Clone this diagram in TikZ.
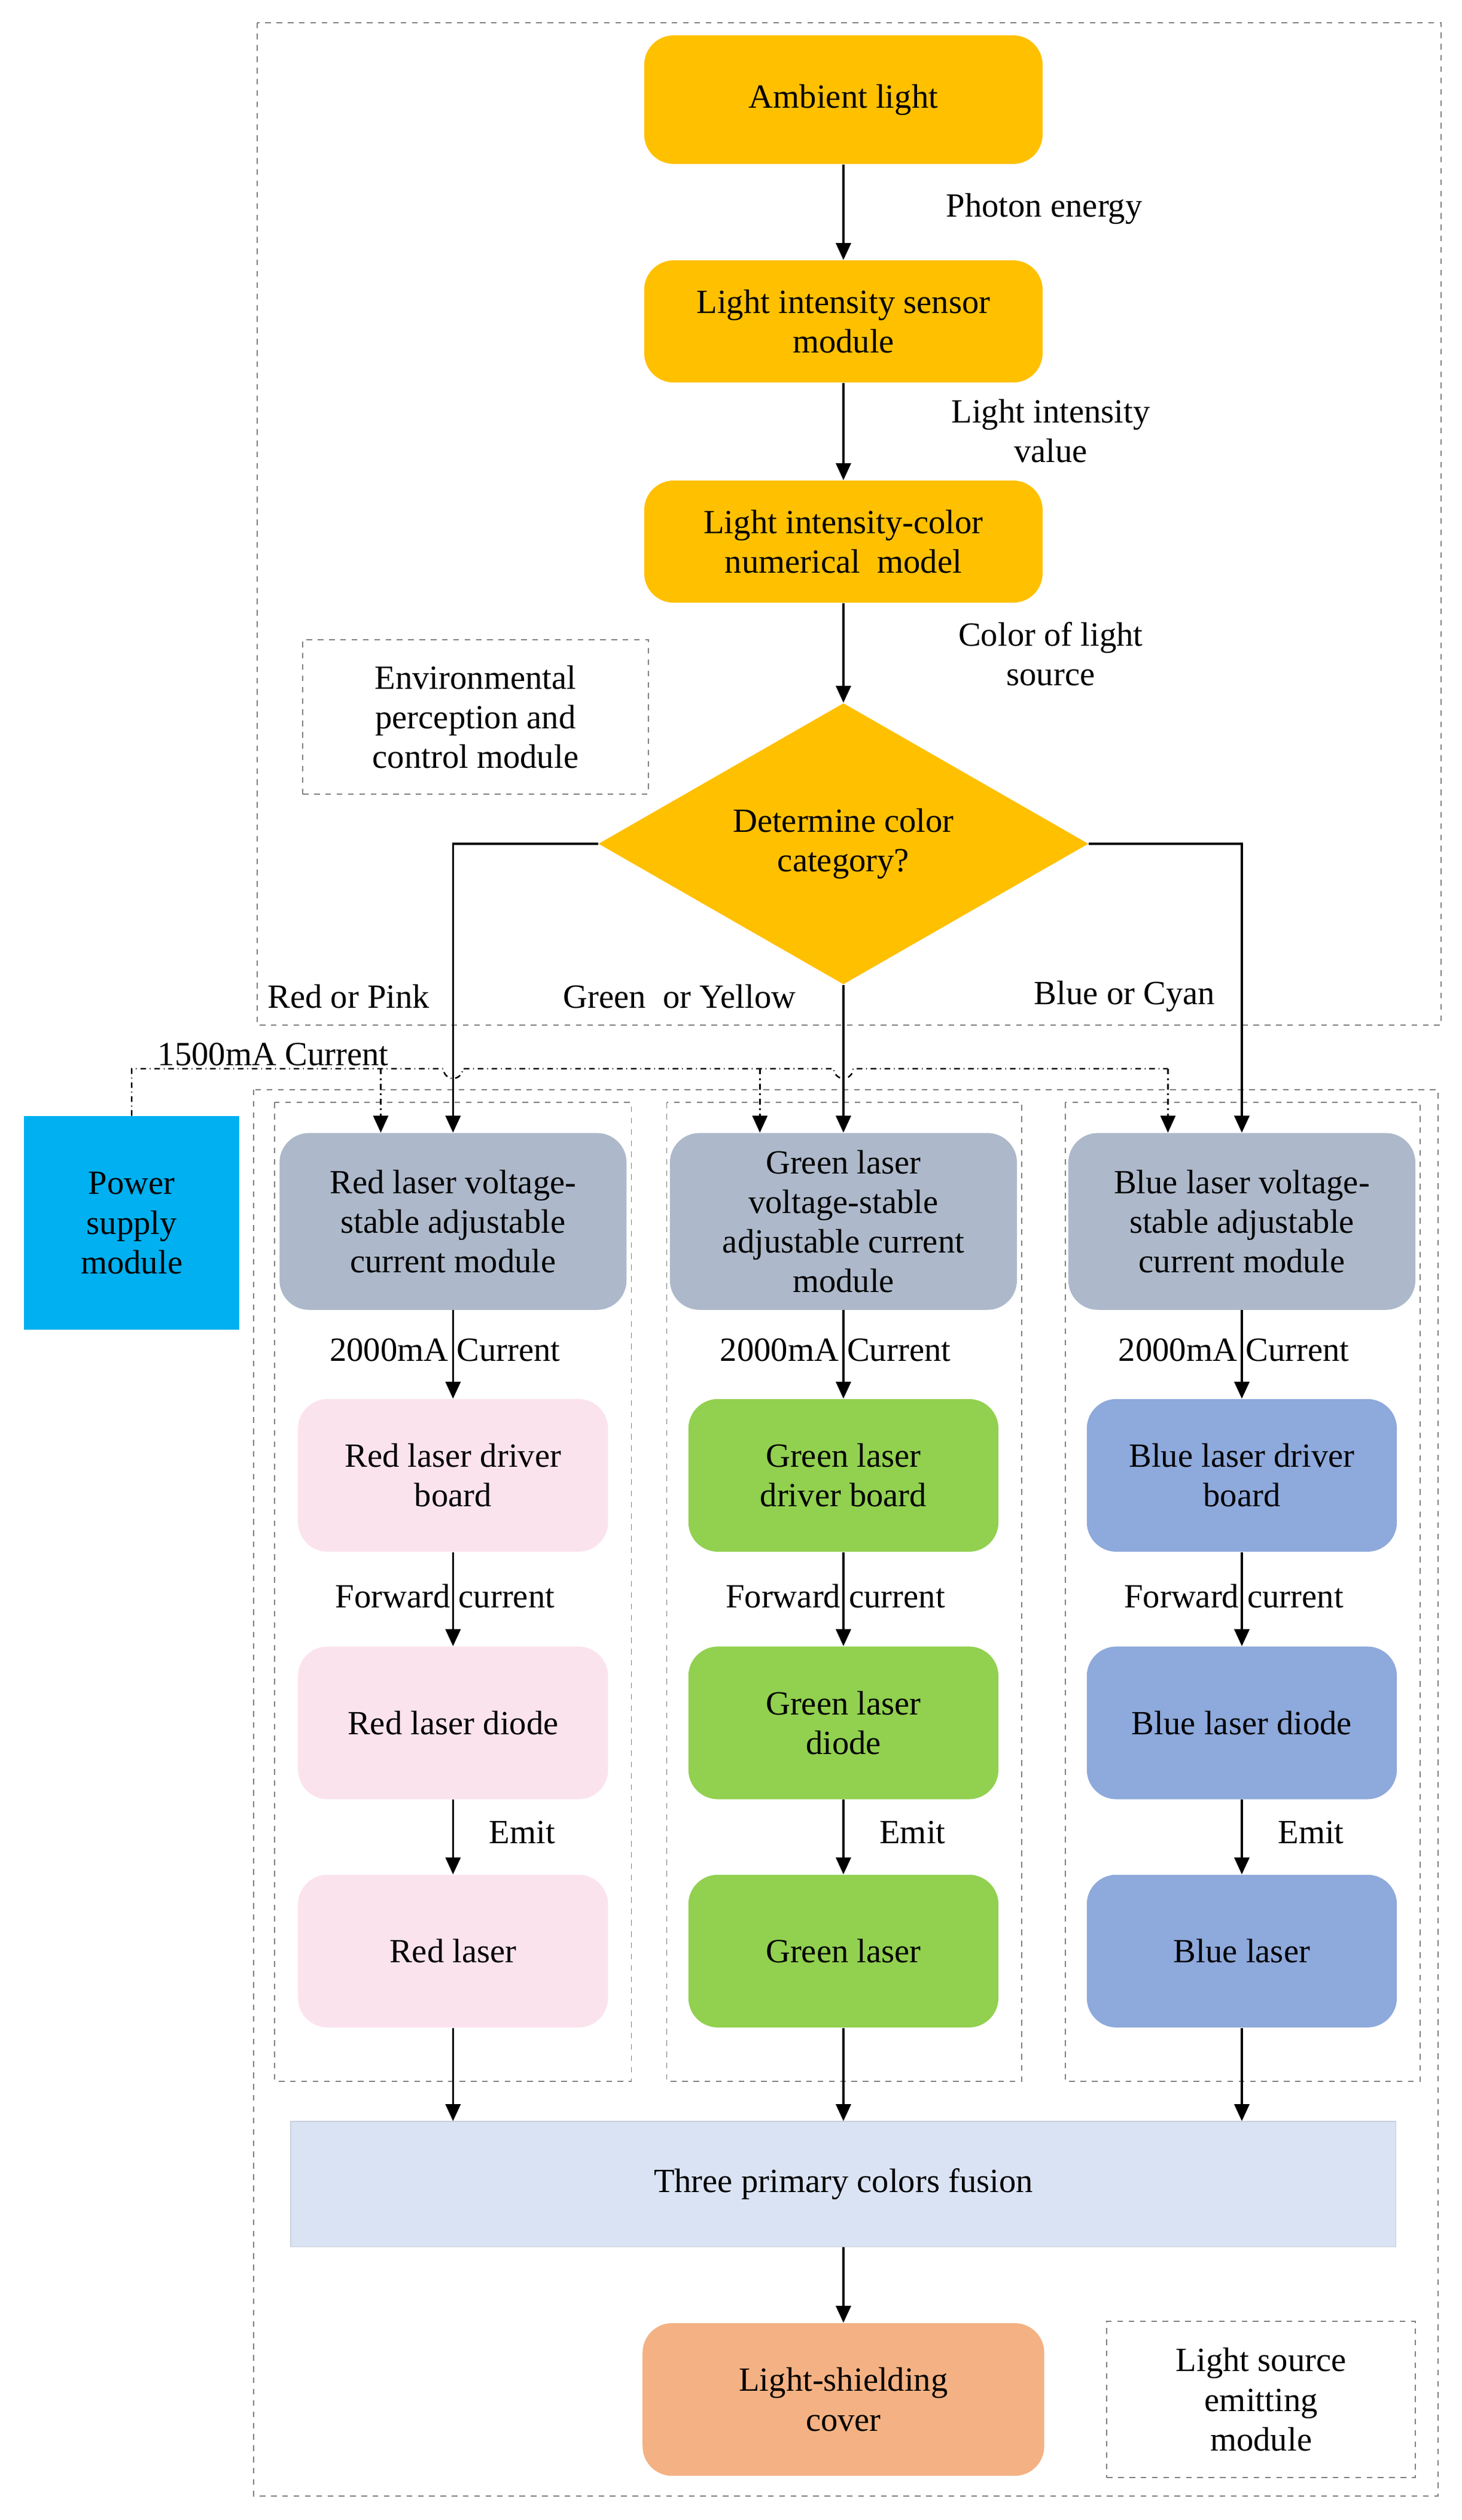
\documentclass[tikz,border=0pt]{standalone}
\usepackage{fontspec}
\setmainfont{Liberation Serif}
\usetikzlibrary{shapes.geometric,arrows.meta}
\definecolor{org}{HTML}{FFC000}
\definecolor{gry}{HTML}{ADB9CA}
\definecolor{pnk}{HTML}{FBE3EE}
\definecolor{grn}{HTML}{92D050}
\definecolor{blu}{HTML}{8EA9DB}
\definecolor{fus}{HTML}{DAE3F3}
\definecolor{cov}{HTML}{F4B183}
\definecolor{pwr}{HTML}{00B0F0}
\begin{document}
\begin{tikzpicture}[x=0.03cm,y=-0.03cm,
  every node/.style={font=\fontsize{18}{21}\selectfont,align=center},
  box/.style={rounded corners=0.55cm,minimum width=#1*0.03cm,inner sep=2pt},
  arr/.style={-{Triangle[length=9pt,width=8pt]},line width=1pt},
  dbox/.style={draw=gray,dashed,line width=0.6pt},
  lab/.style={inner sep=1pt}]
\useasboundingbox (0,0) rectangle (910,1568);
% dashed containers
\draw[dbox] (160,14) rectangle (897,638);
\draw[dbox] (158,678) rectangle (895,1553);
\draw[dbox] (171,686) rectangle (393,1295);
\draw[dbox] (415,686) rectangle (636,1295);
\draw[dbox] (663,686) rectangle (884,1295);
\node[dbox,minimum width=215*0.03cm,minimum height=96*0.03cm] (env) at (296,446) {Environmental\\perception and\\control module};
\node[dbox,minimum width=192*0.03cm,minimum height=97*0.03cm] (lsm) at (785,1493) {Light source\\emitting\\module};
% top chain
\node[box=248,fill=org,minimum height=80*0.03cm] (amb) at (525,62) {Ambient light};
\node[box=248,fill=org,minimum height=76*0.03cm] (sen) at (525,200) {Light intensity sensor\\module};
\node[box=248,fill=org,minimum height=76*0.03cm] (mod) at (525,337) {Light intensity-color\\numerical\ \ model};
\node[diamond,fill=org,aspect=1.75,minimum width=305*0.03cm,minimum height=175*0.03cm,inner sep=0pt] (dia) at (525,525) {Determine color\\category?};
\draw[arr] (amb) -- (sen);
\draw[arr] (sen) -- (mod);
\draw[arr] (mod) -- (dia);
\node[lab] (l1) at (650,130) {Photon energy};
\node[lab] (l2) at (654,268) {Light intensity\\value};
\node[lab] (l3) at (654,407) {Color of light\\source};
% modules
\foreach \n/\x/\c/\t/\d/\dd/\ls in {r/282/pnk/{Red laser voltage-\\stable adjustable\\current module}/{Red laser driver\\board}/{Red laser diode}/{Red laser},
  g/525/grn/{Green laser\\voltage-stable\\adjustable current\\module}/{Green laser\\driver board}/{Green laser\\diode}/{Green laser},
  b/773/blu/{Blue laser voltage-\\stable adjustable\\current module}/{Blue laser driver\\board}/{Blue laser diode}/{Blue laser}}{
  \node[box=216,fill=gry,minimum height=110*0.03cm,inner sep=0pt] (\n m) at (\x,760) {\t};
  \node[box=193,fill=\c,minimum height=95*0.03cm] (\n d) at (\x,918) {\d};
  \node[box=193,fill=\c,minimum height=95*0.03cm] (\n o) at (\x,1072) {\dd};
  \node[box=193,fill=\c,minimum height=95*0.03cm] (\n l) at (\x,1214) {\ls};
  \draw[arr] (\n m) -- (\n d);
  \draw[arr] (\n d) -- (\n o);
  \draw[arr] (\n o) -- (\n l);
  \node[lab] at (\x-5,840) {2000mA\ Current};
  \node[lab] at (\x-5,993) {Forward\ current};
  \node[lab] at (\x+43,1140) {Emit};
}
\draw[arr] (dia.west) -| (rm.north);
\draw[arr] (dia.east) -| (bm.north);
\draw[arr] (dia.south) -- (gm.north);
\node[lab] at (217,620) {Red or Pink};
\node[lab] at (423,620) {Green\ \ or Yellow};
\node[lab] at (700,620) {Blue or Cyan};
% fusion
\node[fill=fus,draw=fus!80!gray,minimum width=688*0.03cm,minimum height=78*0.03cm] (fu) at (525,1359) {Three primary colors fusion};
\foreach \n in {r,g,b}{\draw[arr] (\n l.south) -- (\n l.south |- fu.north);}
\node[box=250,fill=cov,minimum height=95*0.03cm] (cv) at (525,1493) {Light-shielding\\cover};
\draw[arr] (fu) -- (cv);
% power
\node[fill=pwr,minimum width=134*0.03cm,minimum height=133*0.03cm] (pw) at (82,761) {Power\\supply\\module};
\node[lab] at (170,656) {1500mA Current};
\coordinate (c0) at (82,665);
\coordinate (a1) at (237,665); \coordinate (a2) at (473,665); \coordinate (a3) at (727,665);
\draw[dash dot,line width=0.8pt] (pw.north) -- (c0) -- (276,665) arc[start angle=180,end angle=0,radius=6] -- (519,665) arc[start angle=180,end angle=0,radius=6] -- (a3);
\foreach \a/\t in {a1/rm,a2/gm,a3/bm}{\draw[arr,dash dot,line width=0.8pt] (\a) -- (\a |- \t.north);}
\end{tikzpicture}
\end{document}
